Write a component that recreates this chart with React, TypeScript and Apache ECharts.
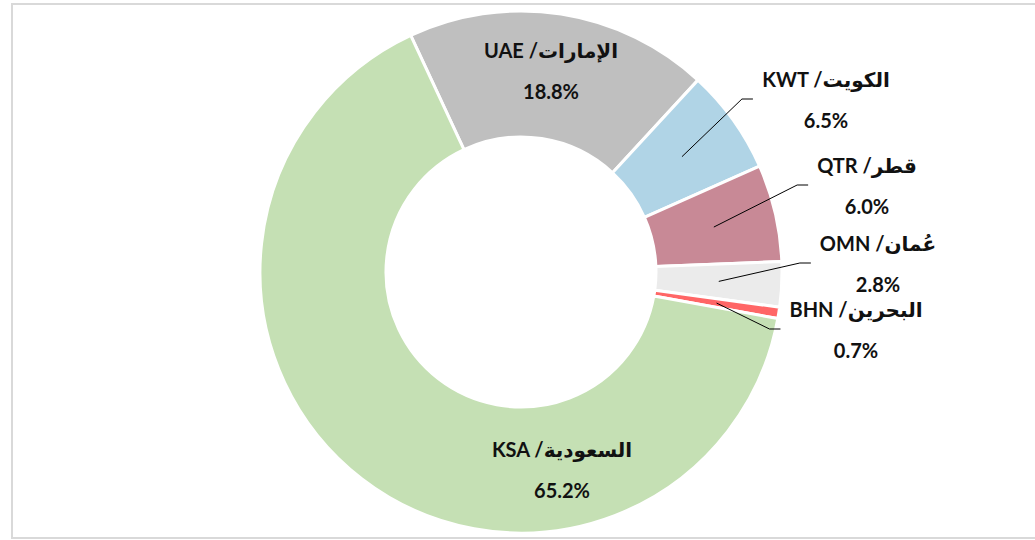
import React, { useEffect, useRef } from "react";
import * as echarts from "echarts";

// ---- data ----
const names: string[] = [
  "UAE /الإمارات",
  "KWT /الكويت",
  "QTR /قطر",
  "OMN /عُمان",
  "BHN /البحرين",
  "KSA /السعودية",
];
const shares: number[] = [18.8, 6.5, 6.0, 2.8, 0.7, 65.2];

// ---- styles / layout ----
const colors: string[] = ["#BFBFBF", "#B0D4E6", "#C88996", "#EBEBEB", "#FF6666", "#C5E0B4"];
const labelCenters: number[][] = [
  [551, 70],
  [826, 99],
  [867, 185],
  [878, 263],
  [856, 329],
  [562, 469],
];
const outsideLabel: boolean[] = [false, true, true, true, true, false];
const CENTER = [521, 272];
const RADII = [135, 261];
const START = 115;
const FONT = "Lato, 'DejaVu Sans', sans-serif";

export default function App() {
  const ref = useRef<HTMLDivElement>(null);
  useEffect(() => {
    if (!ref.current) return;
    const chart = echarts.init(ref.current, undefined, { renderer: "svg" });
    const total = shares.reduce((a, b) => a + b, 0);
    const leaders: (number[][] | null)[] = names.map(() => null);
    const frame = {
      type: "rect",
      id: "frame",
      silent: true,
      z: -10,
      shape: { x: 12, y: 4, width: 1040, height: 534 },
      style: { fill: "none", stroke: "#D9D9D9", lineWidth: 2 },
    };
    const option: any = {
      animation: false,
      backgroundColor: "#ffffff",
      graphic: [frame],
      series: [
        {
          type: "pie",
          center: CENTER,
          radius: RADII,
          startAngle: START,
          clockwise: true,
          avoidLabelOverlap: false,
          itemStyle: { borderColor: "#ffffff", borderWidth: 3 },
          label: {
            show: true,
            fontFamily: FONT,
            fontWeight: "bold",
            fontSize: 20,
            color: "#111111",
            lineHeight: 41,
            align: "center",
            formatter: (p: any) => `${p.name}\n${shares[p.dataIndex].toFixed(1)}%`,
          },
          labelLine: { show: false },
          labelLayout: (params: any) => {
            const i = params.dataIndex;
            const [cx, cy] = labelCenters[i];
            const res: any = { x: cx, y: cy, align: "center", verticalAlign: "middle" };
            if (outsideLabel[i]) {
              let before = 0;
              for (let j = 0; j < i; j++) before += shares[j];
              const midDeg = START - ((before + shares[i] / 2) / total) * 360;
              const rad = (midDeg * Math.PI) / 180;
              const rm = (RADII[0] + RADII[1]) / 2;
              const sx = CENTER[0] + rm * Math.cos(rad);
              const sy = CENTER[1] - rm * Math.sin(rad);
              const ex = cx - params.labelRect.width / 2 - 9;
              leaders[i] = [
                [sx, sy],
                [ex - 11, cy],
                [ex, cy],
              ];
            }
            return res;
          },
          data: names.map((n, i) => ({
            name: n,
            value: shares[i],
            itemStyle: { color: colors[i] },
            label: { position: outsideLabel[i] ? "outside" : "inside" },
          })),
        },
      ],
    };
    chart.setOption(option);
    const lines = leaders
      .map((pts, i) =>
        pts
          ? {
              type: "polyline",
              id: "leader" + i,
              silent: true,
              z: 100,
              shape: { points: pts },
              style: { fill: "none", stroke: "#000000", lineWidth: 1 },
            }
          : null
      )
      .filter((x) => x);
    chart.setOption({ graphic: [frame, ...lines] });
    return () => chart.dispose();
  }, []);
  return (
    <div
      ref={ref}
      style={{ position: "fixed", left: 0, top: 0, width: 1035, height: 540 }}
    />
  );
}
